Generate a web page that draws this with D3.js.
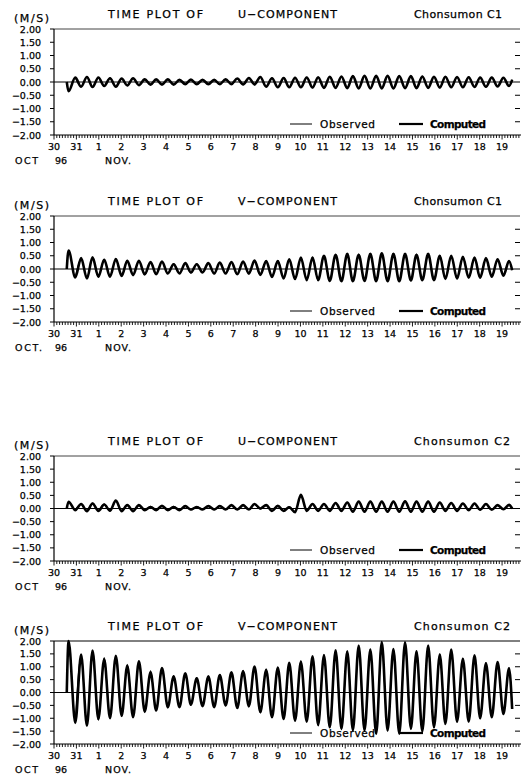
<!DOCTYPE html>
<html><head><meta charset="utf-8">
<script src="https://cdn.jsdelivr.net/npm/d3@7"></script>
<style>
body{margin:0;background:#fff;}
text{font-family:"DejaVu Sans","Liberation Sans",sans-serif;fill:#000;stroke:#000;stroke-width:0.25;}
</style>
</head><body>
<svg id="chart" width="523" height="780"></svg>
<script>
// ---------- data ----------
const yTicks = [2, 1.5, 1, 0.5, 0, -0.5, -1, -1.5, -2];
const yTickLabels = ["2.00","1.50","1.00","0.50","0.00","−0.50","−1.00","−1.50","−2.00"];
const dayTicks = [0,1,2,3,4,5,6,7,8,9,10,11,12,13,14,15,16,17,18,19,20];
const dayLabels = ["30","31","1","2","3","4","5","6","7","8","9","10","11","12","13","14","15","16","17","18","19"];
const seriesNames = ["Observed","Computed"];
const titles = ["U−COMPONENT","V−COMPONENT","U−COMPONENT","V−COMPONENT"];
const stations = ["Chonsumon C1","Chonsumon C1","Chonsumon C2","Chonsumon C2"];
const monthLabels = ["OCT","OCT.","OCT","OCT"];

// days after 30 Oct 00:00 (start-up, spike, successive tidal extrema, end)
const times = [0.57, 0.65, 0.95, 1.21, 1.47, 1.72, 1.98, 2.24, 2.50, 2.76, 3.02, 3.27,
  3.53, 3.79, 4.05, 4.31, 4.56, 4.82, 5.08, 5.34, 5.60, 5.86, 6.11, 6.37, 6.63, 6.89,
  7.15, 7.40, 7.66, 7.92, 8.18, 8.44, 8.70, 8.95, 9.21, 9.47, 9.73, 9.99, 10.25, 10.50,
  10.76, 11.02, 11.28, 11.54, 11.79, 12.05, 12.31, 12.57, 12.83, 13.09, 13.34, 13.60,
  13.86, 14.12, 14.38, 14.63, 14.89, 15.15, 15.41, 15.67, 15.93, 16.18, 16.44, 16.70,
  16.96, 17.22, 17.47, 17.73, 17.99, 18.25, 18.51, 18.77, 19.02, 19.28, 19.54, 19.80,
  20.06, 20.31, 20.45];

// computed (m/s) at `times`
const uC1Computed = [0, -0.35,
  0.17,-0.18,0.19,-0.19,0.17,-0.15,0.14,-0.18,0.13,-0.13,
  0.14,-0.12,0.10,-0.10,0.10,-0.10,0.10,-0.10,0.08,-0.08,
  0.09,-0.08,0.08,-0.08,0.08,-0.08,0.10,-0.08,0.13,-0.09,
  0.15,-0.09,0.19,-0.18,0.14,-0.20,0.15,-0.20,0.16,-0.20,
  0.17,-0.21,0.18,-0.22,0.20,-0.22,0.21,-0.23,0.22,-0.24,
  0.23,-0.24,0.23,-0.24,0.23,-0.24,0.22,-0.23,0.22,-0.23,
  0.21,-0.22,0.20,-0.21,0.20,-0.20,0.19,-0.20,0.18,-0.19,
  0.17,-0.18,0.17,-0.17,0.16,-0.15, 0.08];
const vC1Computed = [0, 0.70,
  -0.32,0.41,-0.36,0.44,-0.29,0.35,-0.29,0.38,-0.26,0.31,
  -0.23,0.31,-0.20,0.26,-0.20,0.28,-0.17,0.18,-0.17,0.22,
  -0.13,0.18,-0.13,0.22,-0.17,0.24,-0.17,0.26,-0.20,0.28,
  -0.17,0.32,-0.22,0.30,-0.30,0.30,-0.36,0.37,-0.38,0.43,
  -0.42,0.43,-0.42,0.50,-0.45,0.54,-0.46,0.57,-0.46,0.54,
  -0.45,0.57,-0.46,0.59,-0.46,0.57,-0.46,0.57,-0.43,0.54,
  -0.42,0.57,-0.42,0.50,-0.38,0.50,-0.36,0.46,-0.33,0.43,
  -0.33,0.41,-0.29,0.37,-0.25,0.30, -0.05];
const uC2Computed = [0, 0.26,
  -0.06,0.17,-0.10,0.19,-0.09,0.15,-0.08,0.30,-0.10,0.13,
  -0.10,0.13,-0.06,0.06,-0.06,0.10,-0.06,0.06,-0.06,0.09,
  -0.04,0.06,-0.04,0.09,-0.04,0.09,-0.04,0.13,-0.04,0.13,
  -0.04,0.17,0.00,0.13,-0.09,0.10,-0.09,0.05,-0.14,0.52,
  -0.09,0.17,-0.09,0.17,-0.09,0.21,-0.09,0.23,-0.12,0.26,
  -0.12,0.26,-0.12,0.26,-0.12,0.26,-0.12,0.27,-0.12,0.26,
  -0.12,0.26,-0.12,0.23,-0.09,0.21,-0.09,0.19,-0.06,0.19,
  -0.05,0.17,-0.05,0.13,-0.03,0.14, 0.00];
const vC2Computed = [0, 2.00,
  -1.18,1.47,-1.29,1.63,-1.03,1.30,-1.00,1.43,-0.90,1.04,
  -0.96,1.21,-0.74,0.78,-0.70,0.95,-0.57,0.62,-0.57,0.75,
  -0.47,0.55,-0.53,0.62,-0.57,0.68,-0.50,0.78,-0.60,0.82,
  -0.53,1.01,-0.76,0.87,-0.96,0.96,-1.03,1.15,-1.09,1.19,
  -1.13,1.41,-1.26,1.44,-1.35,1.64,-1.41,1.59,-1.47,1.82,
  -1.47,1.67,-1.60,1.96,-1.47,1.69,-1.60,1.95,-1.41,1.60,
  -1.51,1.82,-1.35,1.47,-1.22,1.67,-1.13,1.31,-1.13,1.44,
  -1.00,1.13,-0.96,1.18,-0.83,0.94, -0.64];

// observed (m/s) at times[2..]
const uC1Observed = [0.15,-0.16,0.20,-0.17,0.15,-0.16,0.15,-0.16,0.12,-0.14,
  0.13,-0.11,0.11,-0.11,0.09,-0.09,0.11,-0.09,0.09,-0.07,
  0.08,-0.09,0.09,-0.07,0.07,-0.09,0.11,-0.09,0.12,-0.10,
  0.16,-0.11,0.18,-0.16,0.15,-0.19,0.16,-0.21,0.15,-0.19,
  0.18,-0.22,0.17,-0.21,0.21,-0.23,0.20,-0.22,0.23,-0.23,
  0.22,-0.25,0.24,-0.23,0.22,-0.25,0.23,-0.22,0.21,-0.24,
  0.22,-0.21,0.19,-0.22,0.21,-0.19,0.18,-0.21,0.19,-0.18,
  0.16,-0.19,0.18,-0.16,0.15,-0.16, 0.10];
const vC1Observed = [-0.30,0.38,-0.33,0.41,-0.31,0.37,-0.27,0.35,-0.27,0.33,
  -0.21,0.29,-0.22,0.27,-0.18,0.26,-0.18,0.20,-0.15,0.20,
  -0.15,0.20,-0.12,0.20,-0.18,0.25,-0.16,0.27,-0.21,0.26,
  -0.19,0.30,-0.24,0.31,-0.28,0.32,-0.34,0.38,-0.36,0.41,
  -0.40,0.45,-0.44,0.48,-0.43,0.55,-0.47,0.55,-0.44,0.56,
  -0.47,0.55,-0.44,0.57,-0.48,0.58,-0.44,0.55,-0.45,0.56,
  -0.40,0.55,-0.44,0.52,-0.36,0.48,-0.38,0.47,-0.31,0.44,
  -0.35,0.39,-0.30,0.38,-0.24,0.31, -0.03];
const uC2Observed = [-0.04,0.15,-0.08,0.21,-0.07,0.17,-0.09,0.27,-0.08,0.15,
  -0.08,0.11,-0.07,0.08,-0.05,0.09,-0.07,0.08,-0.05,0.08,
  -0.05,0.07,-0.03,0.08,-0.05,0.10,-0.03,0.12,-0.05,0.14,
  -0.03,0.15,-0.02,0.12,-0.08,0.11,-0.10,0.07,-0.12,0.48,
  -0.07,0.16,-0.10,0.18,-0.08,0.20,-0.10,0.24,-0.11,0.25,
  -0.13,0.27,-0.11,0.25,-0.13,0.27,-0.11,0.26,-0.13,0.27,
  -0.11,0.25,-0.13,0.24,-0.08,0.22,-0.10,0.18,-0.07,0.20,
  -0.06,0.16,-0.04,0.14,-0.04,0.13, 0.01];
const vC2Observed = [-1.10,1.40,-1.22,1.55,-1.08,1.36,-0.95,1.38,-0.94,1.10,
  -0.90,1.15,-0.78,0.84,-0.66,0.90,-0.60,0.66,-0.54,0.72,
  -0.50,0.58,-0.50,0.65,-0.55,0.70,-0.52,0.75,-0.62,0.86,
  -0.56,0.98,-0.80,0.92,-0.92,1.00,-1.06,1.12,-1.12,1.24,
  -1.10,1.38,-1.30,1.48,-1.32,1.60,-1.45,1.63,-1.44,1.78,
  -1.50,1.70,-1.56,1.92,-1.50,1.72,-1.57,1.92,-1.44,1.63,
  -1.48,1.78,-1.38,1.50,-1.19,1.63,-1.16,1.34,-1.10,1.40,
  -1.03,1.16,-0.93,1.14,-0.86,0.97, -0.60];

// ---------- layout ----------
const panels = [
  {top:29,  bottom:135, computed:uC1Computed, observed:uC1Observed},
  {top:216, bottom:322, computed:vC1Computed, observed:vC1Observed},
  {top:456, bottom:561, computed:uC2Computed, observed:uC2Observed},
  {top:641, bottom:744, computed:vC2Computed, observed:vC2Observed}
];
const left = 54, right = 520;
const svg = d3.select("#chart");
const x = d3.scaleLinear().domain([0, 20.8]).range([left, right]);
const minorTicks = d3.range(0, 20.8, 0.125);

panels.forEach((p, i) => {
  const y = d3.scaleLinear().domain([-2, 2]).range([p.bottom, p.top]);
  const g = svg.append("g");

  // headings
  g.append("text").attr("x", 14).attr("y", p.top - 7).attr("font-size", 11)
    .attr("textLength", 35).text("(M/S)");
  g.append("text").attr("x", 108).attr("y", p.top - 11).attr("font-size", 11)
    .attr("textLength", 95).text("TIME PLOT OF");
  g.append("text").attr("x", 238).attr("y", p.top - 11).attr("font-size", 11)
    .attr("textLength", 99).text(titles[i]);
  g.append("text").attr("x", 414).attr("y", p.top - 11).attr("font-size", 11)
    .attr("textLength", i < 2 ? 88 : 96).text(stations[i]);

  // frame: top, left, bottom
  g.append("line").attr("x1", left).attr("x2", right).attr("y1", y(2)).attr("y2", y(2))
    .attr("stroke", i === 3 ? "#000" : "#444").attr("stroke-width", 1);
  g.append("line").attr("x1", left).attr("x2", left).attr("y1", y(2)).attr("y2", y(-2))
    .attr("stroke", "#000").attr("stroke-width", 1.2);
  g.append("line").attr("x1", left).attr("x2", right + 1).attr("y1", y(-2)).attr("y2", y(-2))
    .attr("stroke", "#000").attr("stroke-width", 1.2);

  // left ticks and labels
  g.selectAll(".lt").data(yTicks).enter().append("line")
    .attr("x1", left - 4).attr("x2", left).attr("y1", d => y(d)).attr("y2", d => y(d))
    .attr("stroke", "#000");
  g.selectAll(".ll").data(yTicks).enter().append("text")
    .attr("x", 41).attr("y", d => y(d) + 3.5).attr("font-size", 9.5)
    .attr("text-anchor", "end").text((d, k) => yTickLabels[k]);
  // right ticks (inward)
  g.selectAll(".rt").data(yTicks.filter(d => Math.abs(d) > 0 && Math.abs(d) < 2)).enter().append("line")
    .attr("x1", right - 5).attr("x2", right).attr("y1", d => y(d)).attr("y2", d => y(d))
    .attr("stroke", "#000");

  // bottom ticks
  g.selectAll(".mt").data(minorTicks).enter().append("line")
    .attr("x1", d => x(d)).attr("x2", d => x(d))
    .attr("y1", y(-2)).attr("y2", d => y(-2) + (Math.abs(d - Math.round(d)) < 1e-6 ? 4.5 : 3))
    .attr("stroke", "#000").attr("stroke-width", 0.9);
  g.selectAll(".dl").data(dayTicks).enter().append("text")
    .attr("x", d => x(d)).attr("y", p.bottom + 15).attr("font-size", 9.5)
    .attr("text-anchor", "middle").text((d, k) => dayLabels[k]);
  g.append("text").attr("x", 15).attr("y", p.bottom + 29).attr("font-size", 9.5)
    .attr("textLength", monthLabels[i].length > 3 ? 27 : 23).text(monthLabels[i]);
  g.append("text").attr("x", 55).attr("y", p.bottom + 29).attr("font-size", 9.5).text("96");
  g.append("text").attr("x", 105).attr("y", p.bottom + 29).attr("font-size", 9.5)
    .attr("textLength", 26).text("NOV.");

  // zero line
  g.append("line").attr("x1", left).attr("x2", right).attr("y1", y(0)).attr("y2", y(0))
    .attr("stroke", "#000").attr("stroke-width", 1.1);

  // series
  const line = d3.line().x(d => x(d[0])).y(d => y(d[1])).curve(d3.curveMonotoneX);
  const obsPts = p.observed.map((v, k) => [times[k + 2], v]);
  const compPts = p.computed.map((v, k) => [times[k], v]);
  g.append("path").attr("d", line(obsPts)).attr("fill", "none")
    .attr("stroke", "#000").attr("stroke-width", 1.1);
  g.append("path").attr("d", line(compPts)).attr("fill", "none")
    .attr("stroke", "#000").attr("stroke-width", 2.6).attr("stroke-linejoin", "round");

  // legend
  const ly = p.bottom - 11;
  g.append("line").attr("x1", 290).attr("x2", 312).attr("y1", ly).attr("y2", ly)
    .attr("stroke", "#000").attr("stroke-width", 1);
  g.append("text").attr("x", 320).attr("y", ly + 4).attr("font-size", 10.5)
    .attr("textLength", 55).text(seriesNames[0]);
  g.append("line").attr("x1", 399).attr("x2", 423).attr("y1", ly).attr("y2", ly)
    .attr("stroke", "#000").attr("stroke-width", 2.2);
  g.append("text").attr("x", 430).attr("y", ly + 4).attr("font-size", 10.5)
    .attr("font-weight", "bold").attr("textLength", 56).text(seriesNames[1]);
});
</script>
</body></html>
